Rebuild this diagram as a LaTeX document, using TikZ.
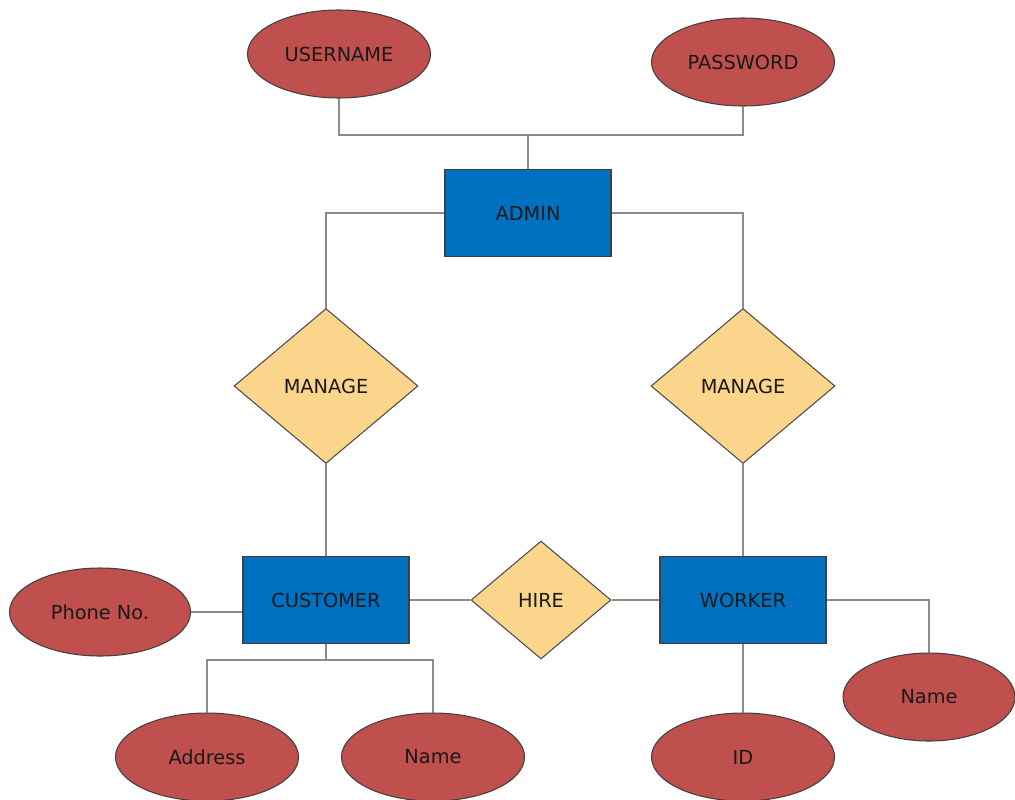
\documentclass[tikz,border=0pt]{standalone}
\usepackage{fontspec}
\setmainfont{DejaVu Sans}
\usetikzlibrary{shapes.geometric}

\definecolor{attrred}{HTML}{C0504D}
\definecolor{entblue}{HTML}{0070C0}
\definecolor{relyellow}{HTML}{FAD58B}
\definecolor{linkgray}{HTML}{8C8C8C}

\tikzset{
  attr/.style={ellipse, draw=black!75, fill=attrred, line width=0.6pt, inner sep=0pt,
    minimum width=36.6mm, minimum height=17.6mm},
  entity/.style={rectangle, draw=black!75, fill=entblue, line width=0.6pt, inner sep=0pt,
    minimum width=33.2mm, minimum height=17.4mm},
  rel/.style={diamond, draw=black!70, fill=relyellow, line width=0.6pt, inner sep=0pt,
    minimum width=36.8mm, minimum height=31mm},
  link/.style={draw=linkgray, line width=0.8pt}
}

\begin{document}
\begin{tikzpicture}[x=0.2mm, y=-0.2mm, font=\fontsize{11}{13}\selectfont, text=black!90]
  \useasboundingbox (0,0) rectangle (1015,799);

  % admin and its attributes
  \node[attr] (user) at (339,54) {USERNAME};
  \node[attr] (pass) at (743,62) {PASSWORD};
  \node[entity] (admin) at (528,213) {ADMIN};

  % relationships
  \node[rel] (manage1) at (326,386) {MANAGE};
  \node[rel] (manage2) at (743,386) {MANAGE};
  \node[rel, minimum width=28mm, minimum height=23.6mm] (hire) at (541,600) {HIRE};

  % entities
  \node[entity] (cust) at (326,600) {CUSTOMER};
  \node[entity] (work) at (743,600) {WORKER};

  % customer attributes
  \node[attr, minimum width=36.2mm] (phone) at (100,612) {Phone No.};
  \node[attr] (addr) at (207,757) {Address};
  \node[attr] (cname) at (433,757) {Name};

  % worker attributes
  \node[attr] (id) at (743,757) {ID};
  \node[attr, minimum width=34.4mm] (wname) at (929,697) {Name};

  \coordinate (ajoin) at (528,135);
  \coordinate (cjoin) at (326,660);

  \draw[link] (user.south) |- (ajoin) -| (pass.south);
  \draw[link] (admin.north) -- (ajoin);
  \draw[link] (admin.west) -| (manage1.north);
  \draw[link] (admin.east) -| (manage2.north);
  \draw[link] (manage1.south) -- (cust.north);
  \draw[link] (manage2.south) -- (work.north);
  \draw[link] (cust.east) -- (hire.west);
  \draw[link] (hire.east) -- (work.west);
  \draw[link] (phone.east) -- (phone.east -| cust.west);
  \draw[link] (cust.south) -- (cjoin);
  \draw[link] (addr.north) |- (cjoin) -| (cname.north);
  \draw[link] (work.south) -- (id.north);
  \draw[link] (work.east) -| (wname.north);
\end{tikzpicture}
\end{document}
